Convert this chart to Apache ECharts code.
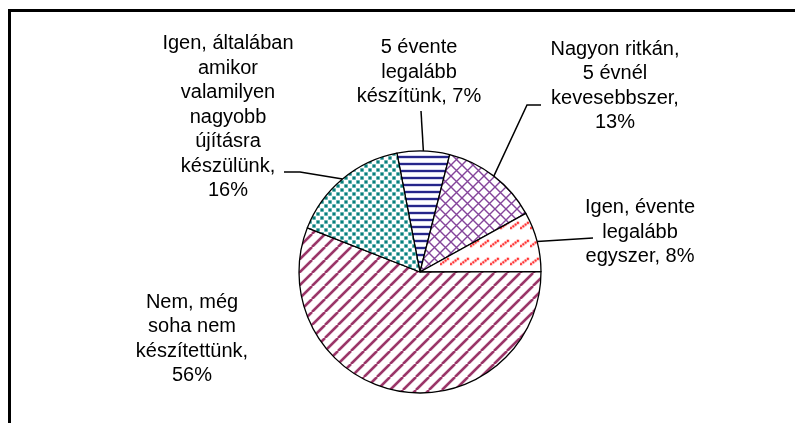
<!DOCTYPE html>
<html lang="hu">
<head>
    <meta charset="UTF-8">
    <title>Kördiagram</title>
    <style>
        html, body {margin: 0; padding: 0; background: #fff;}
        #main {width: 795px; height: 423px;}
    </style>
</head>
<body>
<div id="main"></div>
<script src="https://cdn.jsdelivr.net/npm/echarts@6/dist/echarts.min.js"></script>
<script>
    // adatok, az óramutató járásával egyezően a tetejétől
    let categories = [
        '5 évente\nlegalább\nkészítünk,',
        'Nagyon ritkán,\n5 évnél\nkevesebbszer,',
        'Igen, évente\nlegalább\negyszer,',
        'Nem, még\nsoha nem\nkészítettünk,',
        'Igen, általában\namikor\nvalamilyen\nnagyobb\nújításra\nkészülünk,'
    ];
    let percents = [7, 13, 8, 56, 16];
    // a százalék ugyanabba a sorba kerül-e
    let pctSameLine = [true, false, true, false, false];

    // címkék helye (szöveg közepe) és a vezetővonal töréspontjai
    let labelPos = [[419, 72], [615, 86], [640, 232], [192, 339], [228, 117]];
    let lineBends = [
        [[421, 111]],
        [[527, 105], [541, 105]],
        [[593, 238]],
        null,
        [[300, 172], [284, 172]]
    ];

    // mintázatok canvas-ra rajzolva
    let makeTile = (w, h, draw) => {
        let c = document.createElement('canvas');
        c.width = w;
        c.height = h;
        let ctx = c.getContext('2d');
        ctx.fillStyle = '#fff';
        ctx.fillRect(0, 0, w, h);
        draw(ctx, w, h);
        return {image: c, repeat: 'repeat'};
    };

    let blueStripes = makeTile(4, 7, (ctx, w) => {
        ctx.fillStyle = '#d6d6ee';
        ctx.fillRect(0, 1, w, 4);
        ctx.fillStyle = '#26268a';
        ctx.fillRect(0, 2, w, 2);
    });

    let purpleCross = makeTile(11, 11, (ctx, w, h) => {
        ctx.strokeStyle = '#84449a';
        ctx.lineWidth = 1.4;
        ctx.beginPath();
        ctx.moveTo(0, 0); ctx.lineTo(w, h);
        ctx.moveTo(w, 0); ctx.lineTo(0, h);
        ctx.stroke();
    });

    let redDashes = makeTile(10, 18, (ctx) => {
        let dots = [[1, 12], [3.3, 10.3], [5.6, 8.6], [7.9, 6.9]];
        ctx.fillStyle = '#ffc8c8';
        dots.forEach(p => {
            ctx.beginPath(); ctx.arc(p[0], p[1], 1.9, 0, Math.PI * 2); ctx.fill();
        });
        ctx.fillStyle = '#ff3030';
        dots.forEach(p => {
            ctx.beginPath(); ctx.arc(p[0], p[1], 1.1, 0, Math.PI * 2); ctx.fill();
        });
    });

    let maroonStripes = makeTile(13, 13, (ctx, w, h) => {
        let lines = (color, lw) => {
            ctx.strokeStyle = color;
            ctx.lineWidth = lw;
            ctx.beginPath();
            [-w, 0, w].forEach(k => {
                ctx.moveTo(k, h);
                ctx.lineTo(k + w, 0);
            });
            ctx.stroke();
        };
        lines('#ecd4e0', 3.6);
        lines('#993366', 2.3);
    });

    let tealDots = makeTile(8, 8, (ctx) => {
        ctx.fillStyle = '#bfe0de';
        ctx.fillRect(0, 0, 4, 4);
        ctx.fillRect(4, 4, 4, 4);
        ctx.fillStyle = '#08807e';
        ctx.fillRect(0.5, 0.5, 3, 3);
        ctx.fillRect(4.5, 4.5, 3, 3);
    });

    let fills = [blueStripes, purpleCross, redDashes, maroonStripes, tealDots];

    let pieData = categories.map((name, i) => ({
        name: name,
        value: percents[i],
        itemStyle: {color: fills[i]},
        labelLine: {show: lineBends[i] != null}
    }));

    let myChart = echarts.init(document.getElementById('main'));
    let option = {
        backgroundColor: '#fff',
        animation: false,
        graphic: [{
            type: 'rect',
            shape: {x: 9.5, y: 10.5, width: 820, height: 440},
            style: {fill: 'none', stroke: '#000', lineWidth: 3}
        }],
        series: [{
            type: 'pie',
            center: [420, 272],
            radius: 121,
            startAngle: 101,
            clockwise: true,
            data: pieData,
            itemStyle: {borderColor: '#000', borderWidth: 1.3},
            label: {
                show: true,
                position: 'outside',
                color: '#000',
                fontFamily: 'Liberation Sans, Arial, sans-serif',
                fontSize: 20,
                lineHeight: 24.5,
                align: 'center',
                formatter: (p) => p.name + (pctSameLine[p.dataIndex] ? ' ' : '\n') + p.value + '%'
            },
            labelLine: {
                show: true,
                lineStyle: {color: '#000', width: 1.5}
            },
            labelLayout: (params) => {
                let i = params.dataIndex;
                let res = {
                    x: labelPos[i][0],
                    y: labelPos[i][1],
                    align: 'center',
                    verticalAlign: 'middle'
                };
                if (lineBends[i] && params.labelLinePoints) {
                    res.labelLinePoints = [params.labelLinePoints[0]].concat(lineBends[i]);
                }
                return res;
            }
        }]
    };
    myChart.setOption(option);
</script>
</body>
</html>
